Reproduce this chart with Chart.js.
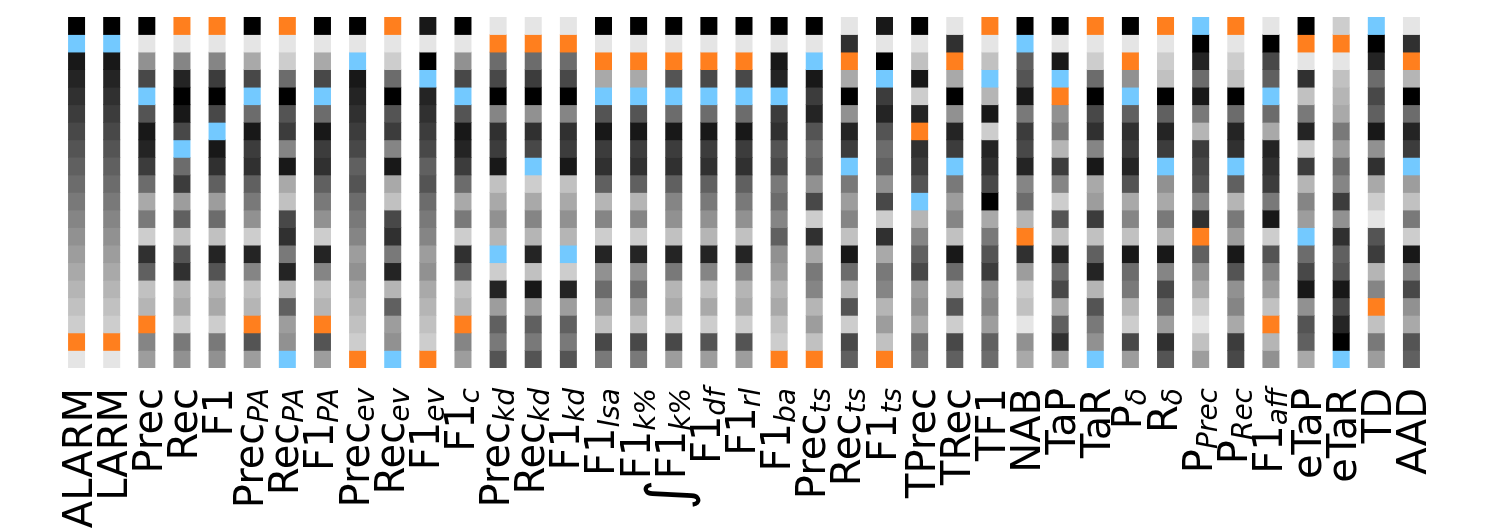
<!DOCTYPE html>
<html lang="en">
<head>
  <meta charset="UTF-8">
  <title>Metric rank heatmap</title>
  <script src="https://cdn.jsdelivr.net/npm/chart.js"></script>
  <style>
    html, body { margin: 0; padding: 0; background: #fff; }
    canvas { display: block; }
  </style>
</head>
<body>
<canvas id="rankChart" width="1488" height="529"></canvas>

<script>
  // Column labels: base text and italic subscript
  const labelBase = ['ALARM', 'LARM', 'Prec', 'Rec', 'F1', 'Prec', 'Rec', 'F1', 'Prec', 'Rec',
    'F1', 'F1', 'Prec', 'Rec', 'F1', 'F1', 'F1', '∫F1', 'F1', 'F1',
    'F1', 'Prec', 'Rec', 'F1', 'TPrec', 'TRec', 'TF1', 'NAB', 'TaP', 'TaR',
    'P', 'R', 'P', 'P', 'F1', 'eTaP', 'eTaR', 'TD', 'AAD'];
  const labelSub = ['', '', '', '', '', 'PA', 'PA', 'PA', 'ev', 'ev',
    'ev', 'c', 'kd', 'kd', 'kd', 'lsa', 'k%', 'k%', 'df', 'rl',
    'ba', 'ts', 'ts', 'ts', '', '', '', '', '', '',
    'δ', 'δ', 'Prec', 'Rec', 'aff', '', '', '', ''];

  // Rank of each row (top to bottom) for every column, 0 = best ... 19 = worst
  const ranks = [
    [0, 1, 2, 3, 4, 5, 6, 7, 8, 9, 10, 11, 12, 13, 14, 15, 16, 17, 18, 19],   // ALARM
    [0, 1, 2, 3, 4, 5, 6, 7, 8, 9, 10, 11, 12, 13, 14, 15, 16, 17, 18, 19],   // LARM
    [0, 19, 12, 6, 1, 7, 2, 3, 5, 9, 14, 10, 17, 4, 8, 16, 15, 18, 11, 13],   // Prec
    [18, 19, 11, 3, 0, 2, 6, 1, 9, 5, 13, 8, 16, 7, 4, 15, 14, 17, 10, 12],   // Rec
    [18, 19, 11, 5, 0, 6, 1, 2, 4, 8, 13, 9, 16, 3, 7, 15, 14, 17, 10, 12],   // F1
    [0, 19, 14, 6, 1, 9, 2, 5, 4, 8, 10, 12, 17, 3, 11, 16, 15, 18, 7, 13],   // Prec_PA
    [18, 19, 17, 9, 0, 7, 5, 11, 2, 14, 16, 6, 4, 10, 3, 15, 8, 13, 12, 1],   // Rec_PA
    [0, 19, 14, 6, 1, 9, 2, 5, 4, 8, 10, 12, 17, 3, 11, 16, 15, 18, 7, 13],   // F1_PA
    [0, 19, 1, 2, 3, 4, 5, 6, 8, 7, 9, 10, 11, 13, 12, 14, 15, 16, 17, 18],   // Prec_ev
    [18, 19, 17, 9, 0, 7, 5, 11, 2, 14, 16, 6, 4, 10, 3, 15, 8, 13, 12, 1],   // Rec_ev
    [2, 19, 0, 1, 3, 4, 5, 6, 8, 7, 9, 10, 11, 13, 12, 14, 15, 16, 17, 18],   // F1_ev
    [0, 19, 12, 6, 1, 7, 2, 3, 5, 9, 14, 10, 17, 4, 8, 16, 15, 18, 11, 13],   // F1_c
    [19, 18, 9, 6, 0, 11, 4, 5, 2, 16, 14, 12, 15, 1, 17, 3, 13, 8, 10, 7],   // Prec_kd
    [19, 18, 9, 5, 0, 12, 4, 6, 1, 17, 14, 11, 15, 3, 16, 2, 13, 8, 10, 7],   // Rec_kd
    [19, 18, 9, 6, 0, 11, 4, 5, 2, 16, 14, 12, 15, 1, 17, 3, 13, 8, 10, 7],   // F1_kd
    [0, 19, 18, 14, 1, 7, 2, 5, 4, 8, 15, 11, 17, 3, 12, 9, 13, 16, 6, 10],   // F1_lsa
    [0, 19, 18, 14, 1, 7, 2, 5, 4, 8, 15, 11, 17, 3, 12, 9, 13, 16, 6, 10],   // F1_k%
    [0, 19, 18, 7, 1, 9, 2, 5, 4, 8, 11, 12, 16, 3, 10, 15, 14, 17, 6, 13],   // ∫F1_k%
    [0, 19, 18, 6, 1, 9, 2, 5, 4, 8, 10, 12, 15, 3, 11, 16, 14, 17, 7, 13],   // F1_df
    [0, 19, 18, 6, 1, 9, 2, 5, 4, 8, 10, 12, 16, 3, 11, 15, 14, 17, 7, 13],   // F1_rl
    [0, 19, 2, 3, 1, 5, 4, 7, 6, 10, 9, 11, 8, 12, 13, 15, 14, 16, 17, 18],   // F1_ba
    [0, 19, 1, 2, 5, 3, 7, 9, 8, 12, 6, 17, 4, 14, 10, 11, 15, 13, 16, 18],   // Prec_ts
    [19, 4, 18, 14, 0, 12, 3, 5, 1, 10, 13, 11, 16, 2, 9, 15, 7, 17, 6, 8],   // Rec_ts
    [2, 19, 0, 1, 5, 3, 7, 9, 8, 12, 6, 17, 4, 14, 10, 11, 15, 13, 16, 18],   // F1_ts
    [0, 19, 16, 2, 17, 3, 18, 4, 5, 7, 1, 15, 11, 8, 6, 13, 12, 14, 9, 10],   // TPrec
    [19, 4, 18, 14, 0, 12, 3, 5, 1, 10, 13, 11, 16, 2, 9, 15, 7, 17, 6, 8],   // TRec
    [18, 19, 16, 1, 15, 2, 17, 3, 4, 6, 0, 14, 10, 7, 5, 12, 11, 13, 8, 9],   // TF1
    [0, 1, 8, 7, 2, 10, 5, 6, 3, 11, 9, 15, 18, 4, 13, 17, 16, 19, 12, 14],   // NAB
    [0, 19, 2, 1, 18, 12, 10, 15, 5, 11, 17, 7, 16, 3, 9, 6, 14, 8, 4, 13],   // TaP
    [18, 19, 17, 9, 0, 6, 4, 11, 2, 14, 13, 5, 16, 8, 3, 15, 7, 10, 12, 1],   // TaR
    [0, 19, 18, 12, 1, 8, 4, 5, 3, 7, 14, 11, 16, 2, 9, 10, 15, 17, 6, 13],   // P_δ
    [18, 19, 17, 16, 0, 8, 3, 5, 1, 12, 14, 10, 15, 2, 11, 6, 9, 13, 4, 7],   // R_δ
    [1, 0, 3, 9, 2, 10, 15, 5, 6, 7, 11, 4, 18, 8, 12, 14, 17, 19, 16, 13],   // P_Prec
    [18, 19, 17, 16, 0, 9, 3, 4, 1, 8, 15, 10, 13, 2, 7, 12, 11, 14, 5, 6],   // P_Rec
    [19, 0, 6, 8, 1, 9, 14, 3, 4, 5, 10, 2, 17, 7, 11, 13, 16, 18, 15, 12],   // F1_aff
    [0, 18, 19, 4, 16, 10, 3, 17, 5, 15, 11, 13, 1, 9, 6, 2, 12, 7, 8, 14],   // eTaP
    [17, 18, 19, 16, 15, 14, 10, 13, 9, 11, 5, 12, 4, 8, 7, 2, 6, 3, 0, 1],   // eTaR
    [1, 0, 3, 9, 6, 8, 2, 12, 4, 14, 17, 19, 7, 5, 15, 11, 18, 16, 10, 13],   // TD
    [19, 4, 18, 15, 0, 9, 3, 5, 1, 13, 16, 10, 17, 2, 11, 6, 12, 14, 7, 8]    // AAD
  ];

  const nRows = 20;
  const ORANGE = '#ff7f1e';
  const BLUE = '#73c9ff';

  // Gray ramp from black to light gray; rank 1 and rank 18 are highlighted
  function cellColor(rank) {
    if (rank === 1) return BLUE;
    if (rank === 18) return ORANGE;
    const g = Math.round(rank * 229 / (nRows - 1));
    return `rgb(${g},${g},${g})`;
  }

  // One floating-bar dataset per row, slightly overlapped to avoid seams
  const datasets = [];
  for (let r = 0; r < nRows; r++) {
    datasets.push({
      data: ranks.map(() => [r - 0.02, r + 1.02]),
      backgroundColor: ranks.map(col => cellColor(col[r])),
      borderWidth: 0,
      categoryPercentage: 1.0,
      barPercentage: 0.484
    });
  }

  const BASE_SIZE = 40;
  const SUB_SIZE = 28;
  const FONT_NAME = '"DejaVu Sans", sans-serif';

  // Rotated tick labels with italic subscripts, drawn under each column
  const labelPlugin = {
    id: 'rotatedLabels',
    afterDraw(chart) {
      const ctx = chart.ctx;
      const xs = chart.scales.x;
      const topY = chart.chartArea.bottom + 20;

      labelBase.forEach((base, i) => {
        const sub = labelSub[i];
        const pieces = [];
        let text = base;

        if (text.startsWith('∫')) {
          ctx.font = `${BASE_SIZE}px ${FONT_NAME}`;
          const m = ctx.measureText('∫');
          const inkH = m.actualBoundingBoxAscent + m.actualBoundingBoxDescent;
          const k = 59 / inkH;
          pieces.push({ t: '∫', font: `${BASE_SIZE * k}px ${FONT_NAME}`, dv: -31 + m.actualBoundingBoxAscent * k });
          text = text.slice(1);
        }
        pieces.push({ t: text, font: `${BASE_SIZE}px ${FONT_NAME}`, dv: sub ? 11 : 15 });
        if (sub) pieces.push({ t: sub, font: `italic ${SUB_SIZE}px ${FONT_NAME}`, dv: 16 });

        let total = 0;
        pieces.forEach(p => {
          ctx.font = p.font;
          p.w = ctx.measureText(p.t).width;
          total += p.w;
        });

        const x = xs.getPixelForValue(i);
        ctx.save();
        ctx.translate(x, topY);
        ctx.rotate(-Math.PI / 2);
        ctx.fillStyle = '#000';
        ctx.textAlign = 'left';
        ctx.textBaseline = 'alphabetic';
        let u = -total;
        pieces.forEach(p => {
          ctx.font = p.font;
          ctx.fillText(p.t, u, p.dv);
          u += p.w;
        });
        ctx.restore();
      });
    }
  };

  new Chart(document.getElementById('rankChart'), {
    type: 'bar',
    data: {
      labels: labelBase.map((b, i) => b + labelSub[i]),
      datasets: datasets
    },
    options: {
      responsive: false,
      devicePixelRatio: 1,
      animation: false,
      layout: { padding: { left: 59, right: 59, top: 17, bottom: 161 } },
      plugins: { legend: { display: false }, tooltip: { enabled: false } },
      scales: {
        x: { display: false, stacked: true, grid: { display: false } },
        y: { display: false, stacked: false, min: 0, max: nRows, reverse: true }
      }
    },
    plugins: [labelPlugin]
  });
</script>
</body>
</html>
